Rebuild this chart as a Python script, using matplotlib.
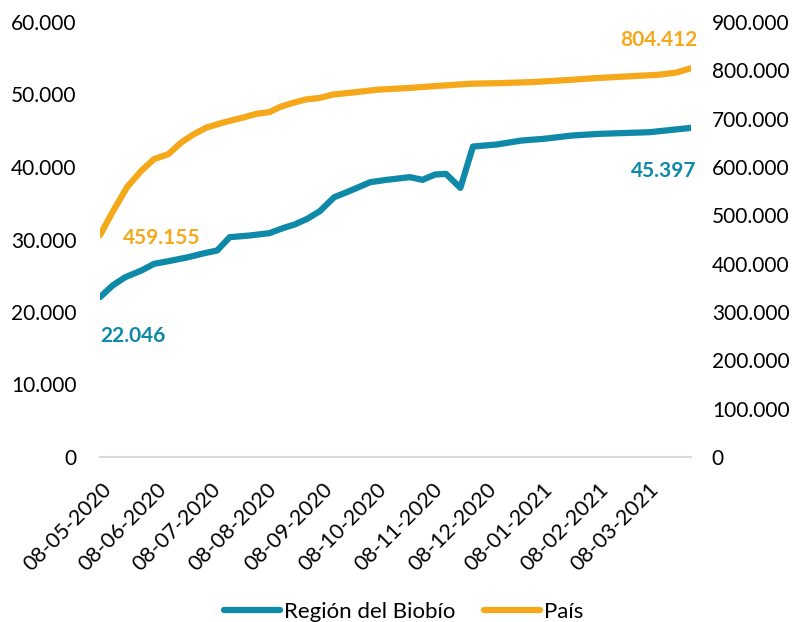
import matplotlib
matplotlib.use("Agg")
import matplotlib.pyplot as plt
import matplotlib.transforms as mtransforms
import numpy as np
import pandas as pd

plt.rcParams['font.family'] = ['Lato', 'DejaVu Sans']

# Región del Biobío (left axis) - days since 2020-05-08
bio_days = [0, 7, 14, 23, 30, 38, 49, 58, 65, 72, 83, 94, 102, 108, 115, 122,
            130, 137, 150, 159, 172, 179, 186, 192, 200, 207, 220, 234, 246,
            262, 277, 305, 328]
bio_vals = [22046, 23655, 24804, 25724, 26643, 27011, 27562, 28114, 28482, 30321,
            30550, 30872, 31608, 32067, 32849, 33906, 35837, 36527, 37906, 38228,
            38595, 38228, 38963, 39055, 37124, 42824, 43100, 43652, 43882, 44341,
            44571, 44801, 45397]

# País (right axis)
pais_days = [0, 7, 15, 23, 30, 38, 45, 52, 59, 68, 79, 87, 94, 100, 107, 114,
             122, 129, 141, 154, 171, 189, 206, 223, 240, 262, 275, 292, 310,
             320, 328]
pais_vals = [459155, 507000, 558300, 592500, 616400, 626700, 650600, 667700,
             681400, 691600, 701900, 710100, 713500, 724400, 732600, 739500,
             742900, 749700, 754500, 760000, 763400, 768200, 772300, 773600,
             775700, 780500, 783900, 787300, 790800, 795500, 804412]

tick_labels = ["08-05-2020", "08-06-2020", "08-07-2020", "08-08-2020", "08-09-2020",
               "08-10-2020", "08-11-2020", "08-12-2020", "08-01-2021", "08-02-2021",
               "08-03-2021"]

start = pd.Timestamp("2020-05-08")
bio_dates = [start + pd.Timedelta(days=d) for d in bio_days]
pais_dates = [start + pd.Timedelta(days=d) for d in pais_days]
tick_dates = [pd.to_datetime(t, format="%d-%m-%Y") for t in tick_labels]

blue = "#0E89A8"
orange = "#F5A81A"

fig = plt.figure(figsize=(7.94, 6.22), dpi=100)
ax = fig.add_axes([100/794, 1-457/622, 591/794, 435/622])
ax2 = ax.twinx()

l1, = ax.plot(bio_dates, bio_vals, color=blue, lw=4.5, solid_capstyle='round',
              solid_joinstyle='round', label="Región del Biobío")
l2, = ax2.plot(pais_dates, pais_vals, color=orange, lw=4.5, solid_capstyle='round',
               solid_joinstyle='round', label="País")

ax.set_ylim(0, 60000)
ax2.set_ylim(0, 900000)
ax.set_xlim(bio_dates[0], bio_dates[-1])

fmt = lambda v, p: f"{int(v):,}".replace(",", ".")
ax.yaxis.set_major_formatter(matplotlib.ticker.FuncFormatter(fmt))
ax2.yaxis.set_major_formatter(matplotlib.ticker.FuncFormatter(fmt))
ax.set_yticks(np.arange(0, 60001, 10000))
ax2.set_yticks(np.arange(0, 900001, 100000))

ax.set_xticks(tick_dates)
ax.set_xticklabels(tick_labels, fontsize=15.5, rotation=45, ha='right',
                   rotation_mode='anchor')

for a in (ax, ax2):
    for s in a.spines.values():
        s.set_visible(False)
    a.tick_params(length=0)
    a.tick_params(axis='y', labelsize=15)
ax.spines['bottom'].set_visible(True)
ax.spines['bottom'].set_color('#D9D9D9')
ax.spines['bottom'].set_linewidth(1.5)
ax.tick_params(axis='y', pad=17)
ax2.tick_params(axis='y', pad=15)
ax.tick_params(axis='x', pad=16)
offset = mtransforms.ScaledTranslation(1/100, 0, fig.dpi_scale_trans)
for lab in ax.get_xticklabels():
    lab.set_transform(lab.get_transform() + offset)

# data labels
ax2.annotate("459.155", xy=(pais_dates[0], pais_vals[0]), xytext=(16.5, -2),
             textcoords='offset points', color=orange, fontsize=15, fontweight='bold',
             ha='left', va='center')
ax.annotate("22.046", xy=(bio_dates[0], bio_vals[0]), xytext=(0, -28),
            textcoords='offset points', color=blue, fontsize=15, fontweight='bold',
            ha='left', va='center')
ax.annotate("45.397", xy=(bio_dates[-1], bio_vals[-1]), xytext=(4, -31),
            textcoords='offset points', color=blue, fontsize=15, fontweight='bold',
            ha='right', va='center')
ax2.annotate("804.412", xy=(pais_dates[-1], pais_vals[-1]), xytext=(5, 20),
             textcoords='offset points', color=orange, fontsize=15, fontweight='bold',
             ha='right', va='center')

fig.legend(handles=[l1, l2], loc='center', bbox_to_anchor=(404/794, 1-612/622),
           ncol=2, frameon=False, fontsize=16, handlelength=2.5, handletextpad=0.2,
           columnspacing=1.3)

fig.savefig("out.png", dpi=100)
